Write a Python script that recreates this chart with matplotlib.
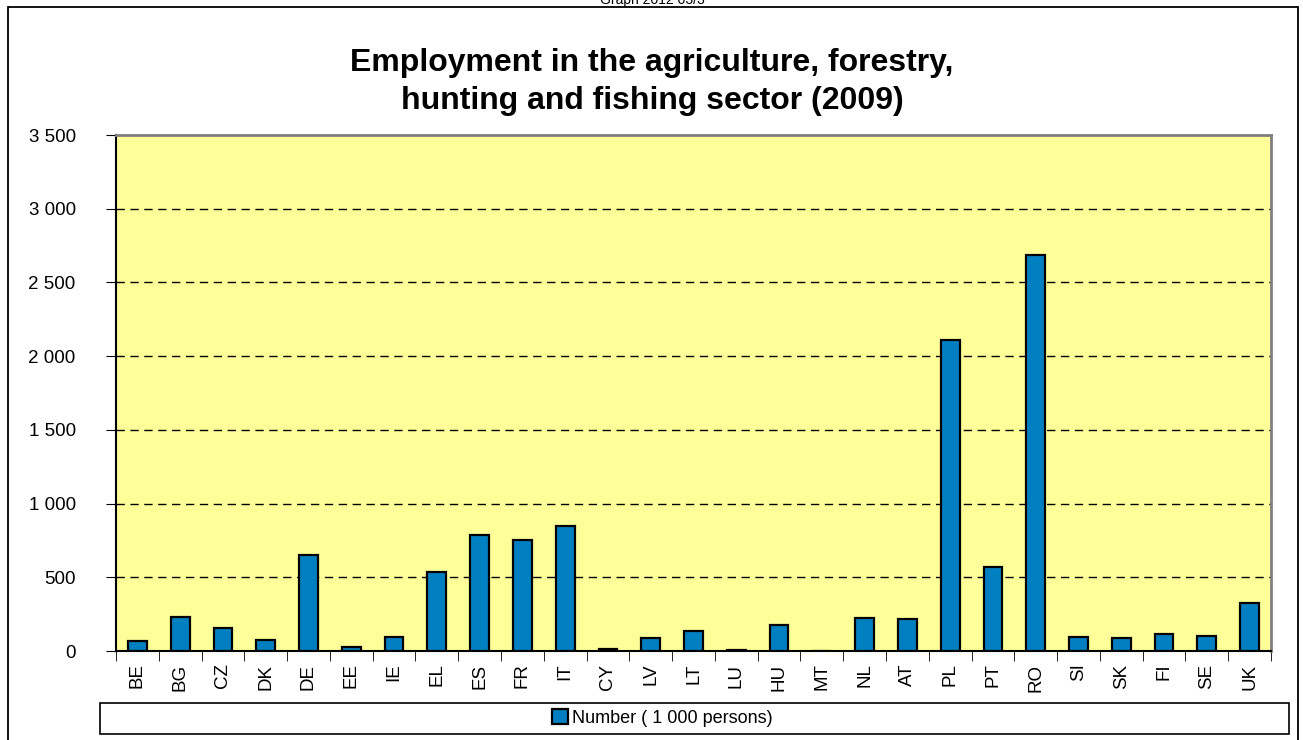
import matplotlib.pyplot as plt
import matplotlib.patches as mpatches
import numpy as np

plt.rcParams['font.family'] = ['Liberation Sans', 'DejaVu Sans']

# datos (miles de personas, 2009)
countries = ['BE', 'BG', 'CZ', 'DK', 'DE', 'EE', 'IE', 'EL', 'ES', 'FR', 'IT', 'CY', 'LV', 'LT',
             'LU', 'HU', 'MT', 'NL', 'AT', 'PL', 'PT', 'RO', 'SI', 'SK', 'FI', 'SE', 'UK']
employment = [68, 231, 158, 77, 651, 27, 97, 538, 785, 752, 848, 15, 90, 136,
              4, 178, 3, 222, 217, 2110, 568, 2687, 93, 88, 115, 102, 328]
y_ticks = [0, 500, 1000, 1500, 2000, 2500, 3000, 3500]
y_labels = ['0', '500', '1 000', '1 500', '2 000', '2 500', '3 000', '3 500']

title = 'Employment in the agriculture, forestry,\nhunting and fishing sector (2009)'
legend_label = 'Number ( 1 000 persons)'

fig = plt.figure(figsize=(13.03, 7.4), dpi=100)
ax = fig.add_axes([116 / 1303, 1 - 651 / 740, 1155 / 1303, 516 / 740])

x = np.arange(len(countries))
bars = ax.bar(x, employment, width=0.44, color='#0080C0', edgecolor='black',
              linewidth=1.6, label=legend_label, zorder=3)

ax.set_facecolor('#FFFF99')
ax.set_xlim(-0.5, len(countries) - 0.5)
ax.set_ylim(0, 3500)

# ejes y lineas de cuadricula
ax.set_yticks(y_ticks, y_labels, fontsize=13.5)
ax.tick_params(axis='y', direction='out', length=7, pad=22, color='black')
for v in y_ticks[1:-1]:
    ax.axhline(v, color='black', linewidth=1, linestyle=(0, (6, 4)), zorder=1)

ax.set_xticks(x, countries, rotation=90, fontsize=13.5)
ax.tick_params(axis='x', which='major', length=0, pad=9)
ax.set_xticks(np.arange(-0.5, len(countries)), minor=True)
ax.tick_params(axis='x', which='minor', direction='out', length=7, color='black')

ax.spines['left'].set_color('black')
ax.spines['bottom'].set_color('black')
ax.spines['left'].set_linewidth(1.5)
ax.spines['bottom'].set_linewidth(1.5)
ax.spines['top'].set_color('#808080')
ax.spines['right'].set_color('#808080')
ax.spines['top'].set_linewidth(2)
ax.spines['right'].set_linewidth(2)

# titulo
fig.text(652 / 1303, 1 - 82 / 740, title, ha='center', va='center',
         fontsize=23, fontweight='bold', linespacing=1.32)

# texto superior recortado (como en el original)
fig.text(652 / 1303, 1.0, 'Graph 2012 03/3', ha='center', va='center', fontsize=10)

# marco exterior
fig.patches.append(mpatches.Rectangle((8 / 1303, -0.05), 1290 / 1303, 1.05 - 7 / 740,
                                      transform=fig.transFigure, fill=False,
                                      edgecolor='black', linewidth=1.3))

# caja de la leyenda
fig.patches.append(mpatches.Rectangle((100 / 1303, 1 - 734 / 740), 1189 / 1303, 31 / 740,
                                      transform=fig.transFigure, fill=False,
                                      edgecolor='black', linewidth=1.2))
fig.legend(handles=[bars], labels=[legend_label], loc='center',
           bbox_to_anchor=(662 / 1303, 1 - 718 / 740), frameon=False, fontsize=13,
           handlelength=0.9, handleheight=0.9, handletextpad=0.2, borderpad=0)

fig.savefig('out.png', dpi=100)
